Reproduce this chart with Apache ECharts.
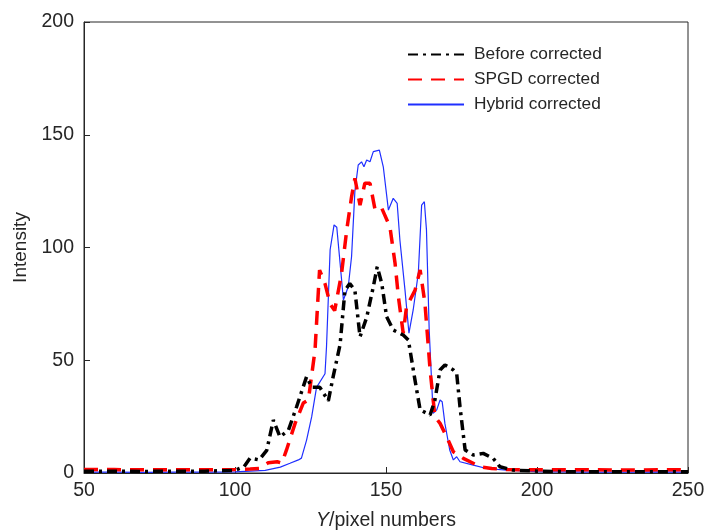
<!DOCTYPE html>
<html>
<head>
<meta charset="utf-8">
<script src="https://cdn.jsdelivr.net/npm/echarts@6/dist/echarts.min.js"></script>
<style>
  html, body { margin: 0; padding: 0; background: #fff; }
  #chart { width: 707px; height: 531px; }
</style>
</head>
<body>
<div id="chart"></div>
<script>
const beforeX = [50, 60, 70, 80, 90, 100, 103, 105, 108, 110.5, 112.7, 114.9, 117.7, 120.4, 123.7, 125.4, 128.1, 130.9, 132.5, 134.8, 136.4, 138, 139.7, 141.4, 143.6, 145.8, 147.1, 148.6, 150.2, 152.4, 155.7, 157.4, 159.6, 161.3, 164.6, 166.2, 167.9, 169.5, 172.3, 173.4, 174.5, 176.2, 178.9, 182.2, 185.5, 187.7, 192, 200, 210, 220, 230, 240, 250]
const beforeY = [0.8, 0.8, 0.7, 0.8, 0.8, 1.2, 2.8, 6.6, 5.8, 10, 23.5, 16, 19, 29.4, 42.7, 38, 38, 32, 42.7, 57, 81, 84, 81, 60.4, 69, 82.6, 91.5, 84, 69.3, 63.4, 61.2, 59, 41.2, 28, 25.7, 32.4, 45.7, 47.9, 45.7, 44.2, 29.4, 10.2, 8, 8.7, 6.5, 2.8, 1.3, 0.8, 0.6, 0.6, 0.5, 0.5, 0.5]

const spgdX = [50, 60, 70, 80, 90, 100, 105, 108, 111, 114, 115.5, 117, 119.9, 122.6, 124.3, 126.5, 128, 129.8, 131.5, 133, 135.3, 137, 138.6, 139.7, 141.4, 143, 144.7, 146.4, 148.6, 151.3, 153, 154.1, 155.7, 156.8, 159.6, 161.3, 162.9, 164.6, 166.2, 167.9, 170.1, 172.3, 175.6, 181.1, 185, 190, 200, 210, 220, 230, 240, 250]
const spgdY = [1.5, 1.5, 1.4, 1.5, 1.4, 1.5, 1.8, 2, 4.5, 5, 4.4, 10, 22, 31, 32.4, 54.5, 90, 84, 75, 72, 88.6, 107.8, 122.5, 130.7, 118.8, 128.5, 128.5, 116.6, 117.4, 109.2, 93, 78.2, 62, 73.7, 81, 90, 75.3, 45.7, 25, 22, 16, 9.4, 6.5, 2.8, 2, 1.5, 1.4, 1.5, 1.4, 1.3, 1.4, 1.5]

const hybridX = [50, 60, 70, 80, 90, 100, 105, 110, 115, 118.2, 121, 122, 123.7, 125.4, 127, 129.8, 130.3, 131.5, 132.8, 133.7, 134.8, 135.9, 137.5, 138.6, 139.7, 140.8, 141.9, 142.7, 143.6, 144.7, 145.8, 147.8, 149.1, 150.8, 152.4, 153.7, 154.6, 156.3, 157.6, 159, 160.7, 161.8, 162.7, 163.4, 164.3, 165.6, 166.8, 167.9, 168.6, 169.5, 171.1, 172.3, 173.4, 174.5, 178.9, 183.3, 189.9, 200, 210, 220, 230, 240, 250]
const hybridY = [0.4, 0.4, 0.3, 0.4, 0.4, 0.5, 0.8, 1.2, 2.6, 4.3, 5.8, 6.6, 14.6, 25, 38, 44, 56, 99, 110, 109, 93, 76.7, 82.6, 96, 125, 136.6, 138, 135.8, 138.8, 138, 142.5, 143.2, 135.8, 116.6, 121.8, 119.6, 103.3, 81, 62, 72.3, 88.6, 118.8, 120.3, 107.8, 63.4, 26.5, 28, 32.4, 31.6, 22, 10.2, 5.8, 7.2, 5, 3.5, 2, 1.3, 0.6, 0.5, 0.4, 0.4, 0.5, 0.4]

const xTicks = [50, 100, 150, 200, 250]
const yTicks = [0, 50, 100, 150, 200]

const pairs = (xs, ys) => xs.map((x, i) => [x, ys[i]])

const axisColor = '#262626'
const font = 'Liberation Sans, Arial, sans-serif'

const chart = echarts.init(document.getElementById('chart'), null, { renderer: 'canvas' })

chart.setOption({
  backgroundColor: '#fff',
  animation: false,
  grid: {
    left: 84, right: 19, top: 22, bottom: 58,
    outerBoundsMode: 'none',
    containLabel: false,
    show: true, borderColor: axisColor, borderWidth: 1,
  },
  legend: {
    orient: 'vertical',
    left: 402,
    top: 41,
    itemWidth: 56,
    itemHeight: 14,
    itemGap: 8,
    itemStyle: { opacity: 0 },
    textStyle: { fontFamily: font, fontSize: 17.3, color: axisColor, padding: [0, 0, 0, 5] },
    data: ['Before corrected', 'SPGD corrected', 'Hybrid corrected'],
  },
  xAxis: {
    type: 'value',
    min: 50, max: 250, interval: 50,
    name: '{i|Y}/pixel numbers',
    nameLocation: 'middle',
    nameGap: 38,
    nameTextStyle: {
      fontFamily: font, fontSize: 19.5, color: axisColor,
      rich: { i: { fontFamily: font, fontSize: 19.5, fontStyle: 'italic', color: axisColor } },
    },
    axisLine: { lineStyle: { color: axisColor } },
    axisTick: { inside: true, length: 6, lineStyle: { color: axisColor } },
    axisLabel: {
      fontFamily: font, fontSize: 19.5, color: axisColor, margin: 8,
      formatter: (v) => xTicks.includes(v) ? String(v) : '',
    },
    splitLine: { show: false },
  },
  yAxis: {
    type: 'value',
    min: 0, max: 200, interval: 50,
    name: 'Intensity',
    nameLocation: 'middle',
    nameGap: 53,
    nameTextStyle: { fontFamily: font, fontSize: 19, color: axisColor },
    axisLine: { show: true, lineStyle: { color: axisColor } },
    axisTick: { show: true, inside: true, length: 6, lineStyle: { color: axisColor } },
    axisLabel: {
      fontFamily: font, fontSize: 19.5, color: axisColor, margin: 10,
      formatter: (v) => yTicks.includes(v) ? String(v) : '',
    },
    splitLine: { show: false },
  },
  series: [
    {
      name: 'Hybrid corrected',
      type: 'line',
      data: pairs(hybridX, hybridY),
      symbol: 'none',
      z: 2,
      lineStyle: { color: '#1f2fff', width: 1.2 },
      itemStyle: { color: '#1f2fff' },
    },
    {
      name: 'SPGD corrected',
      type: 'line',
      data: pairs(spgdX, spgdY),
      symbol: 'none',
      z: 3,
      lineStyle: { color: '#ff0000', width: 3.5, type: [14, 9] },
      itemStyle: { color: '#ff0000' },
    },
    {
      name: 'Before corrected',
      type: 'line',
      data: pairs(beforeX, beforeY),
      symbol: 'none',
      z: 4,
      lineStyle: { color: '#000000', width: 3.5, type: [10, 5, 3, 5] },
      itemStyle: { color: '#000000' },
    },
  ],
})
</script>
</body>
</html>
